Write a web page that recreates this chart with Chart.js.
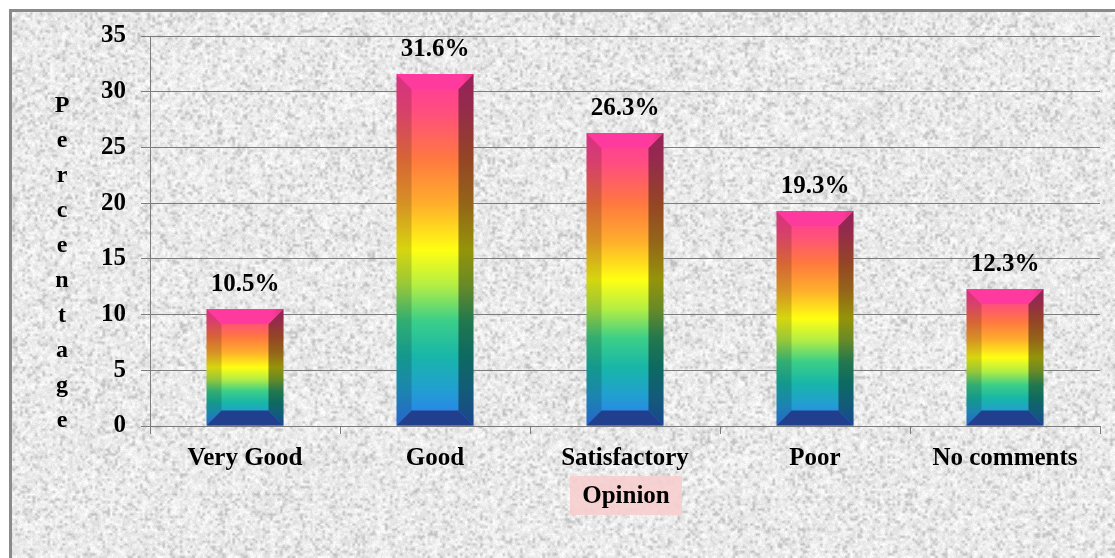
<!DOCTYPE html>
<html>
<head>
<meta charset="utf-8">
<script src="https://cdn.jsdelivr.net/npm/chart.js@4.4.1/dist/chart.umd.min.js"></script>
<style>
  html, body { margin: 0; padding: 0; background: #fff; }
  canvas { display: block; }
</style>
</head>
<body>
<canvas id="main-chart" width="1115" height="558"></canvas>
<script>
// ── Data ─────────────────────────────────────────────────────
const CATEGORIES = ['Very Good', 'Good', 'Satisfactory', 'Poor', 'No comments'];
const PERCENTAGES = [10.5, 31.6, 26.3, 19.3, 12.3];
const Y_MIN = 0, Y_MAX = 35, Y_STEP = 5;
const Y_TITLE = 'Percentage';
const X_TITLE = 'Opinion';

// ── Look ─────────────────────────────────────────────────────
const FONT = "'Liberation Serif', 'Times New Roman', serif";
const GRID = '#7c7c7c';
const RAINBOW = [
  [0.00, '#ff3a9c'], [0.10, '#ff4c82'], [0.24, '#ff7840'], [0.37, '#ffae2c'],
  [0.50, '#ffff12'], [0.60, '#b4ee44'], [0.70, '#3ccf88'], [0.80, '#18b6a8'],
  [0.90, '#229ed2'], [1.00, '#2f78f2']
];

function hash(x, y, s) {
  let n = Math.imul(x, 374761393) + Math.imul(y, 668265263) + Math.imul(s, 1442695041);
  n = Math.imul(n ^ (n >>> 13), 1274126177);
  n = n ^ (n >>> 16);
  return (n >>> 0) / 4294967296;
}

// granite-like paper texture
function makeTexture(w, h) {
  const c = document.createElement('canvas');
  c.width = w; c.height = h;
  const g = c.getContext('2d');
  const sw = Math.ceil(w / 2.5), sh = Math.ceil(h / 2.5);
  const small = document.createElement('canvas');
  small.width = sw; small.height = sh;
  const sg = small.getContext('2d');
  const sd = sg.createImageData(sw, sh);
  for (let y = 0; y < sh; y++) {
    for (let x = 0; x < sw; x++) {
      const r = hash(x, y, 1);
      const v = 214 + r * 40 - (r < 0.12 ? 22 : 0);
      const k = (y * sw + x) * 4;
      sd.data[k] = sd.data[k + 1] = sd.data[k + 2] = v;
      sd.data[k + 3] = 255;
    }
  }
  sg.putImageData(sd, 0, 0);
  g.imageSmoothingEnabled = true;
  g.drawImage(small, 0, 0, w, h);
  const id = g.getImageData(0, 0, w, h);
  for (let y = 0; y < h; y++) {
    for (let x = 0; x < w; x++) {
      const k = (y * w + x) * 4;
      const v = Math.max(0, Math.min(255, id.data[k] + (hash(x, y, 7) - 0.5) * 14));
      id.data[k] = id.data[k + 1] = id.data[k + 2] = v;
    }
  }
  g.putImageData(id, 0, 0);
  return c;
}

let TEXTURE = null;

const backgroundPlugin = {
  id: 'paper',
  beforeDraw(chart) {
    const { ctx, width, height } = chart;
    if (!TEXTURE) TEXTURE = makeTexture(width, height);
    ctx.save();
    ctx.fillStyle = '#fff';
    ctx.fillRect(0, 0, width, height);
    ctx.drawImage(TEXTURE, 12, 12, width - 12, height - 12, 12, 12, width - 12, height - 12);
    ctx.fillStyle = '#8a8a8a';
    ctx.fillRect(9, 9, width - 9, 3);
    ctx.fillRect(9, 9, 3, height - 9);

    // x title box
    ctx.fillStyle = 'rgba(246,206,206,0.9)';
    ctx.fillRect(570, 476, 112, 39);
    ctx.restore();
  },
  afterDraw(chart) {
    const ctx = chart.ctx;
    ctx.save();
    ctx.fillStyle = '#000';
    ctx.font = 'bold 25px ' + FONT;
    ctx.textAlign = 'center';
    ctx.textBaseline = 'alphabetic';
    ctx.fillText(X_TITLE, 626, 503);
    ctx.font = 'bold 24px ' + FONT;
    [...Y_TITLE].forEach((ch, i) => ctx.fillText(ch, 62, 112 + 35 * i));
    ctx.restore();
  }
};

function poly(ctx, pts, fill) {
  ctx.beginPath();
  ctx.moveTo(pts[0][0], pts[0][1]);
  for (let i = 1; i < pts.length; i++) ctx.lineTo(pts[i][0], pts[i][1]);
  ctx.closePath();
  ctx.fillStyle = fill;
  ctx.fill();
}

// bevelled faces + value labels on top of the library's bars
const bevelPlugin = {
  id: 'bevel',
  afterDatasetsDraw(chart) {
    const ctx = chart.ctx;
    ctx.save();
    chart.getDatasetMeta(0).data.forEach((bar, i) => {
      const L = bar.x - bar.width / 2, R = bar.x + bar.width / 2;
      const T = bar.y, B = bar.base;
      const b = Math.min(15, (R - L) / 4, (B - T) / 4);
      poly(ctx, [[L, T], [L + b, T + b], [L + b, B - b], [L, B]], 'rgba(0,0,0,0.16)');
      poly(ctx, [[R, T], [R - b, T + b], [R - b, B - b], [R, B]], 'rgba(0,0,0,0.42)');
      const tg = ctx.createLinearGradient(L, 0, R, 0);
      tg.addColorStop(0, '#ff3a9e');
      tg.addColorStop(0.85, '#ff3a9e');
      tg.addColorStop(1, '#e0347f');
      poly(ctx, [[L, T], [R, T], [R - b, T + b], [L + b, T + b]], tg);
      poly(ctx, [[L, B], [R, B], [R - b, B - b], [L + b, B - b]], '#223f8e');

      ctx.fillStyle = '#000';
      ctx.font = 'bold 25px ' + FONT;
      ctx.textAlign = 'center';
      ctx.textBaseline = 'alphabetic';
      ctx.fillText(PERCENTAGES[i].toFixed(1) + '%', bar.x, T - 18);
    });
    ctx.restore();
  }
};

function barFill(context) {
  const chart = context.chart;
  const ys = chart.scales && chart.scales.y;
  if (!ys || !chart.chartArea) return RAINBOW[4][1];
  const top = ys.getPixelForValue(PERCENTAGES[context.dataIndex]);
  const base = ys.getPixelForValue(0);
  const g = chart.ctx.createLinearGradient(0, top, 0, base);
  RAINBOW.forEach(([p, c]) => g.addColorStop(p, c));
  return g;
}

const TICK_FONT = { family: FONT, size: 25, weight: 'bold' };

new Chart(document.getElementById('main-chart').getContext('2d'), {
  type: 'bar',
  data: {
    labels: CATEGORIES,
    datasets: [{
      label: 'Percentage',
      data: PERCENTAGES,
      backgroundColor: barFill,
      borderWidth: 0,
      categoryPercentage: 1,
      barPercentage: 0.405,
    }]
  },
  options: {
    responsive: false,
    animation: false,
    layout: { padding: { top: 36, right: 15, left: 0, bottom: 0 } },
    plugins: { legend: { display: false }, tooltip: { enabled: false } },
    scales: {
      x: {
        afterFit: s => { s.height = 132; },
        grid: { display: true, drawOnChartArea: false, tickLength: 8, color: GRID },
        border: { display: true, color: GRID },
        ticks: { color: '#000', font: TICK_FONT, padding: 10, maxRotation: 0, autoSkip: false }
      },
      y: {
        min: Y_MIN, max: Y_MAX,
        afterFit: s => { s.width = 150; },
        grid: { color: GRID, tickLength: 9 },
        border: { display: true, color: GRID },
        ticks: { stepSize: Y_STEP, color: '#000', font: TICK_FONT, padding: 15 }
      }
    }
  },
  plugins: [backgroundPlugin, bevelPlugin]
});
</script>
</body>
</html>
